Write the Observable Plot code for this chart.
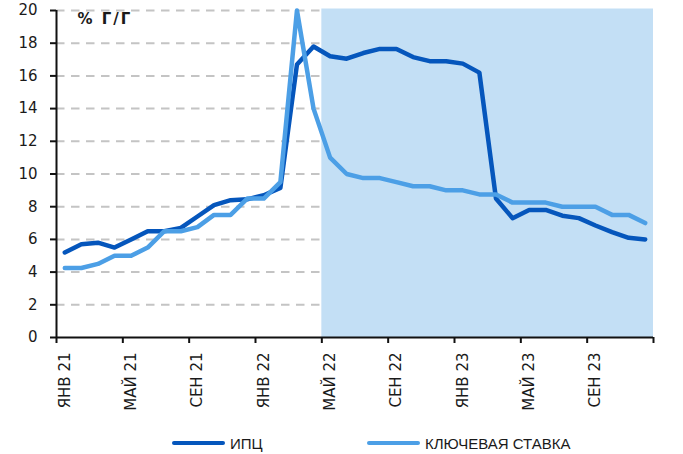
<!DOCTYPE html>
<html>
<head>
<meta charset="utf-8">
<script src="https://cdn.jsdelivr.net/npm/d3@7"></script>
<script src="https://cdn.jsdelivr.net/npm/@observablehq/plot@0.6"></script>
<style>
  body { margin: 0; background: #fff; }
  #wrap { position: relative; width: 683px; height: 454px; }
  #legend { position: absolute; left: 0; top: 434px; width: 683px; height: 18px;
    font-family: "Liberation Sans", Arial, sans-serif; font-size: 15px; color: #1a1a1a; }
  .item { position: absolute; top: 0; display: flex; align-items: center; height: 18px; }
  .sw { width: 53px; height: 4.5px; border-radius: 3px; margin-right: 5px; }
</style>
</head>
<body>
<div id="wrap"><div id="chart"></div><div id="legend"></div></div>
<script>
const months = ["ЯНВ 21","ФЕВ 21","МАР 21","АПР 21","МАЙ 21","ИЮН 21","ИЮЛ 21","АВГ 21","СЕН 21","ОКТ 21","НОЯ 21","ДЕК 21",
                "ЯНВ 22","ФЕВ 22","МАР 22","АПР 22","МАЙ 22","ИЮН 22","ИЮЛ 22","АВГ 22","СЕН 22","ОКТ 22","НОЯ 22","ДЕК 22",
                "ЯНВ 23","ФЕВ 23","МАР 23","АПР 23","МАЙ 23","ИЮН 23","ИЮЛ 23","АВГ 23","СЕН 23","ОКТ 23","НОЯ 23","ДЕК 23"];
const cpi  = [5.2,5.7,5.8,5.5,6.0,6.5,6.5,6.7,7.4,8.1,8.4,8.45,8.7,9.15,16.7,17.8,17.2,17.05,17.4,17.65,17.65,17.15,16.9,16.9,16.75,16.2,8.5,7.3,7.8,7.8,7.45,7.3,6.85,6.45,6.1,6.0];
const rate = [4.25,4.25,4.5,5,5,5.5,6.5,6.5,6.75,7.5,7.5,8.5,8.5,9.5,20,14,11,10,9.75,9.75,9.5,9.25,9.25,9,9,8.75,8.75,8.25,8.25,8.25,8,8,8,7.5,7.5,7];
const tickLabels = ["ЯНВ 21","МАЙ 21","СЕН 21","ЯНВ 22","МАЙ 22","СЕН 22","ЯНВ 23","МАЙ 23","СЕН 23"];
const yTicks = [0,2,4,6,8,10,12,14,16,18,20];
const forecastFrom = "МАЙ 22";
const seriesNames = ["ИПЦ","КЛЮЧЕВАЯ СТАВКА"];
const colors = ["#0556bc","#4c9fe6"];
const bandColor = "#c3dff5";

const cpiData = cpi.map((v,i) => ({i, v}));
const rateData = rate.map((v,i) => ({i, v}));
const n = months.length;
const fStart = months.indexOf(forecastFrom);
const bounds = d3.range(-0.5, n, 4);
const labelIdx = tickLabels.map(l => months.indexOf(l));

const chart = Plot.plot({
  width: 683,
  height: 432,
  marginLeft: 56,
  marginRight: 30,
  marginTop: 10,
  marginBottom: 95,
  style: {fontFamily: "'DejaVu Sans', sans-serif", fontSize: "15px", color: "#1a1a1a", background: "#fff"},
  x: {type: "linear", domain: [-0.5, n - 0.5]},
  y: {domain: [0, 20]},
  marks: [
    Plot.ruleY(yTicks.filter(d => d > 0), {stroke: "#c4c4c4", strokeWidth: 2, strokeDasharray: "8.5,6.5"}),
    Plot.rect([{x1: fStart - 0.5, x2: n - 0.5}], {x1: "x1", x2: "x2", y1: 0, y2: 20, insetTop: -1.5, fill: bandColor}),
    Plot.axisY({ticks: yTicks, tickSize: 6, tickPadding: 13, strokeWidth: 2, stroke: "#111", fontSize: 15, fill: "#1a1a1a", label: null}),
    Plot.axisX({ticks: bounds, tickSize: 6, strokeWidth: 2, stroke: "#111", tickFormat: () => "", label: null}),
    Plot.axisX({ticks: labelIdx, tickSize: 0, tickPadding: 15, tickRotate: -90, tickFormat: i => months[i], fontSize: 15, fill: "#1a1a1a", label: null}),
    Plot.ruleX([-0.5], {y1: 0, y2: 20, stroke: "#111", strokeWidth: 2}),
    Plot.ruleY([0], {stroke: "#111", strokeWidth: 2}),
    Plot.line(cpiData, {x: "i", y: "v", stroke: colors[0], strokeWidth: 4.5, strokeLinejoin: "round", strokeLinecap: "round"}),
    Plot.line(rateData, {x: "i", y: "v", stroke: colors[1], strokeWidth: 4.5, strokeLinejoin: "round", strokeLinecap: "round"}),
    Plot.text(["% Г/Г"], {frameAnchor: "top-left", dx: 21, dy: 9, textAnchor: "start", lineAnchor: "middle", fontWeight: "bold", fontSize: 15, fill: "#1a1a1a", className: "unit-title"})
  ]
});
d3.select(chart).selectAll(".unit-title text").style("letter-spacing", "2px");
document.getElementById("chart").appendChild(chart);

const legend = document.getElementById("legend");
const lefts = [172, 367];
seriesNames.forEach((name, k) => {
  const it = document.createElement("div");
  it.className = "item";
  it.style.left = lefts[k] + "px";
  const sw = document.createElement("div");
  sw.className = "sw";
  sw.style.background = colors[k];
  const t = document.createElement("span");
  t.textContent = name;
  it.appendChild(sw); it.appendChild(t);
  legend.appendChild(it);
});
</script>
</body>
</html>
